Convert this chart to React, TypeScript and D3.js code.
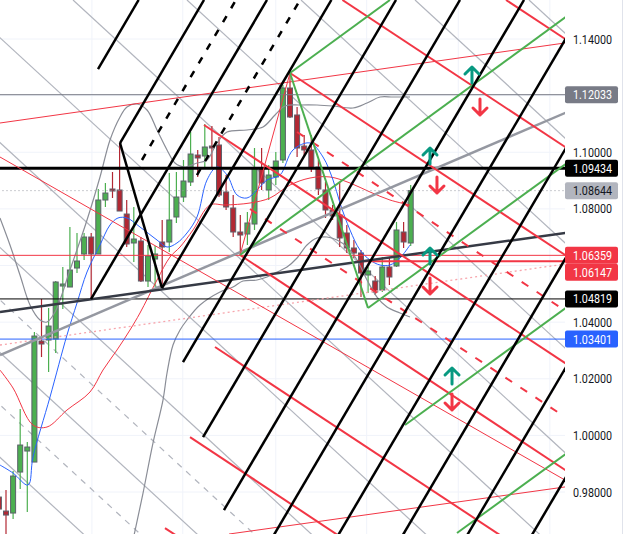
import React from "react";
import * as d3 from "d3";

const W = 628;
const H = 534;
const PLOT_W = 565;

// ---- candles (bar index starts at -1) ----
const firstIndex = -1;
const opens = [0.97822,0.97327,0.97257,0.98705,0.99447,0.99058,1.03333,1.03368,1.03403,1.05275,1.0524,1.05911,1.06406,1.07006,1.06406,1.08313,1.08702,1.08667,1.07818,1.06795,1.06865,1.05452,1.06229,1.0683,1.0683,1.07713,1.08419,1.08949,1.09902,1.09867,1.1022,1.10256,1.08596,1.08031,1.07183,1.07112,1.07465,1.09443,1.08667,1.09126,1.09726,1.12269,1.11316,1.1022,1.1008,1.09479,1.08667,1.0796,1.07784,1.07148,1.06618,1.06441,1.05664,1.05452,1.05134,1.05947,1.05982,1.07183,1.06795];
const highs = [0.97999,0.98069,0.9874,1.00931,0.99765,1.0365,1.04816,1.04498,1.05452,1.05947,1.0736,1.07148,1.07148,1.07148,1.08702,1.08914,1.09302,1.10327,1.08313,1.08066,1.07006,1.06724,1.06688,1.07607,1.09267,1.09302,1.09726,1.10715,1.1008,1.10997,1.10927,1.10538,1.09196,1.0849,1.07784,1.07889,1.1015,1.1015,1.09549,1.10008,1.12375,1.12799,1.11598,1.10609,1.10609,1.09726,1.08949,1.08137,1.08949,1.0743,1.069,1.06547,1.05947,1.05629,1.063,1.063,1.07536,1.07536,1.08843];
const lows = [0.97009,0.96304,0.97045,0.98105,0.97292,0.99058,1.02767,1.02237,1.02909,1.04463,1.0524,1.05735,1.06194,1.04816,1.06406,1.08066,1.08384,1.07924,1.06653,1.06123,1.05417,1.0524,1.0524,1.05205,1.06477,1.07501,1.08242,1.08808,1.09126,1.09479,1.09443,1.08419,1.0796,1.07006,1.0637,1.06724,1.07254,1.08667,1.08313,1.08843,1.0962,1.11209,1.09832,1.09832,1.09302,1.0849,1.07678,1.07607,1.06653,1.06441,1.06265,1.04887,1.05029,1.04958,1.05064,1.05311,1.05947,1.06618,1.06688];
const closes = [0.97398,0.97186,0.98564,0.99659,0.99588,1.03509,1.03227,1.03862,1.05417,1.05346,1.05841,1.06159,1.07006,1.06406,1.08313,1.0856,1.08631,1.07924,1.06759,1.06935,1.05452,1.06335,1.06406,1.06653,1.07607,1.08419,1.08984,1.09938,1.09797,1.10185,1.1015,1.0849,1.08066,1.07183,1.07077,1.07501,1.09443,1.08914,1.09196,1.0969,1.12269,1.11245,1.1015,1.1008,1.09443,1.08702,1.0796,1.07748,1.06971,1.06618,1.06441,1.05735,1.05806,1.05064,1.05947,1.05594,1.07254,1.0683,1.08644];

// ---- indicators: [bar index, price] ----
const blueMA: [number, number][] = [[-0.85,0.98953],[0.99,0.9867],[3.1,0.98246],[3.8,0.99235],[6.2,1.01355],[8.59,1.03545],[10,1.04675],[11.41,1.0577],[13.24,1.06724],[14.65,1.0743],[15.77,1.07678],[17.04,1.07678],[18.87,1.0736],[21.27,1.069],[22.68,1.06653],[24.08,1.06795],[25.49,1.07148],[26.9,1.07713],[28.31,1.0902],[29.72,1.09479],[31.13,1.09196],[32.54,1.0849],[33.94,1.08384],[35.35,1.08667],[36.76,1.0902],[38.59,1.09196],[40.42,1.1008],[42.82,1.10327],[44.65,1.09832],[46.06,1.0902],[47.04,1.08207],[48.45,1.07254],[49.86,1.06547],[51.27,1.06194],[52.68,1.06017],[54.08,1.06017],[55.49,1.06265],[56.9,1.06724]];
const redMA: [number, number][] = [[-0.85,1.02308],[0.99,1.01673],[3.8,1.00366],[5.77,1.00295],[8.59,1.00896],[11.83,1.01531],[13.66,1.02308],[15.63,1.03015],[17.46,1.03721],[18.87,1.04322],[21.27,1.05488],[23.1,1.063],[24.51,1.06653],[26.34,1.07254],[28.73,1.08137],[30.85,1.08137],[34.37,1.08207],[37.18,1.08384],[40,1.08843],[42.82,1.0909],[45.63,1.09126],[48.45,1.08914],[51.27,1.08596],[54.08,1.08313],[56.9,1.08137]];
const upperBand: [number, number][] = [[-0.85,1.07678],[0.56,1.06724],[1.97,1.05664],[3.38,1.04604],[4.79,1.04075],[5.77,1.04004],[6.9,1.04357],[9.01,1.05841],[11.41,1.07607],[13.24,1.09126],[14.65,1.10433],[16.06,1.11245],[17.04,1.11598],[18.45,1.11704],[19.86,1.11492],[21.27,1.10786],[22.68,1.1008],[23.8,1.0962],[25.21,1.09479],[26.9,1.0962],[28.31,1.09726],[29.72,1.10327],[31.13,1.10715],[33.94,1.10786],[36.2,1.10892],[37.89,1.11316],[39.3,1.11633],[41.41,1.11669],[43.8,1.11669],[46.06,1.11633],[48.87,1.11563],[50.85,1.1174],[52.68,1.11951],[54.51,1.11951],[56.9,1.11951]];
const lowerBand: [number, number][] = [[17.89,0.96304],[19.3,0.97964],[20.7,0.9973],[22.11,1.01249],[22.68,1.02203],[23.52,1.03192],[24.51,1.03721],[25.49,1.04075],[27.32,1.04604],[30.14,1.05064],[31.97,1.0524],[33.38,1.05452],[35.35,1.05488],[36.76,1.05594],[38.17,1.0577],[39.58,1.05947],[40.99,1.06265],[42.39,1.06724],[43.8,1.06971],[45.21,1.07006],[46.62,1.069],[48.03,1.06653],[49.44,1.06194],[50.85,1.05488],[52.25,1.04887],[53.66,1.04534],[55.49,1.04322],[56.9,1.04181]];

// ---- drawing tools: [i1, p1, i2, p2] ----
const blackSolid = [[12.96,1.1294,18.68,1.15378],[16.06,1.10326,27.89,1.15378],[11.97,1.04816,36.76,1.15378],[21.97,1.05205,45.83,1.15378],[24.93,1.02591,54.93,1.15378],[27.75,0.99941,63.94,1.15378],[30.7,0.97363,72.96,1.15378],[32.34,0.94184,82.04,1.15378],[41.41,0.94184,91.13,1.15378],[50.51,0.94184,100.2,1.15378],[59.58,0.94184,109.3,1.15378],[68.68,0.94184,118.4,1.15378],[16.06,1.10326,21.97,1.05205]];
const blackDashed = [[19.15,1.09726,32.39,1.15378],[26.9,1.09196,41.41,1.15378]];
const redThick = [[70.42,1.15378,83.66,1.13188],[47.38,1.15378,83.66,1.09373],[40,1.12799,83.66,1.05558],[27.89,1.10962,83.66,1.01743],[32.96,1.0637,83.66,0.97963],[29.44,1.03121,83.66,0.94148],[25.92,0.99941,83.66,0.90333],[22.39,0.96727,83.66,0.86589]];
const redDashed = [[40.99,1.10715,83.66,1.0358],[34.37,1.07995,83.66,0.99835]];
const redThin = [[-0.85,1.09832,83.66,0.97716],[-0.85,1.11033,83.66,1.14035],[31.41,0.96515,83.66,0.98352],[40,1.12799,32.96,1.0637]];
const pinkDotted = [[-0.85,1.03191,83.66,1.06229]];
const greenLines = [[40,1.12799,54.08,1.15378],[32.96,1.0637,82.11,1.15378],[50.99,1.04498,83.66,1.10468],[56.2,1.00365,83.66,1.05381],[63.52,0.9655,83.66,1.00224],[40,1.12799,50.99,1.04498]];
const greyThin = [[73.66,1.15378,165.5,0.94184],[57.61,1.15378,149.4,0.94184],[41.55,1.15378,133.4,0.94184],[25.49,1.15378,117.3,0.94184],[9.44,1.15378,101.3,0.94184],[-6.62,1.15378,85.2,0.94184],[-22.68,1.15378,69.2,0.94184],[-38.73,1.15378,53.1,0.94184],[-54.79,1.15378,37,0.94184],[-70.85,1.15378,21,0.94184],[-86.9,1.15378,4.9,0.94184]];
const greyDashed = [[-46.76,1.15378,45.07,0.94184],[-62.82,1.15378,29.01,0.94184]];
const greyThick = [[-0.85,1.02838,83.66,1.11916]];
const darkThick = [[-0.85,1.04357,83.66,1.07324]];

// horizontal levels
const levelPrices = [1.12033, 1.09434, 1.08644, 1.06359, 1.06147, 1.04819, 1.03401];
const levelColors = ["#787b86", "#000000", "#9598a1", "#f23645", "#f23645", "#000000", "#2962ff"];
const levelWidths = [1, 3, 1, 1, 2, 1, 1];
const levelDash = ["", "", "1,3", "", "", "", ""];
const levelFrom = [-5, -5, -5, -5, 49.44, -5, -5];
const badgeBg = ["#787b86", "#000000", "#b2b5be", "#f23645", "#f23645", "#000000", "#2962ff"];
const badgeFg = ["#ffffff", "#ffffff", "#131722", "#ffffff", "#ffffff", "#ffffff", "#ffffff"];

// arrow markers
const arrowIdx = [65.63, 66.76, 59.72, 60.7, 59.72, 59.72, 62.82, 62.82];
const arrowPrice = [1.12728, 1.11598, 1.09867, 1.08843, 1.06335, 1.05275, 1.02096, 1.01178];
const arrowUp = [true, false, true, false, true, false, true, false];

const timeGrid = [12.1, 24.9, 38.0, 50.8, 63.7, 76.6];

const x = d3.scaleLinear().domain([0, 10]).range([6, 77]);
const y = d3.scaleLinear().domain([0.98, 1.14]).range([492, 39]);

const GREEN = "#4caf50";
const RED = "#b22833";
const FONT = "Roboto, 'Noto Sans', sans-serif";

function Segs({ data, stroke, width, dash }: { data: number[][]; stroke: string; width: number; dash?: string }) {
  return (
    <g>
      {data.map((s, k) => (
        <line key={k} x1={x(s[0])} y1={y(s[1])} x2={x(s[2])} y2={y(s[3])} stroke={stroke} strokeWidth={width} strokeDasharray={dash} />
      ))}
    </g>
  );
}

export default function App() {
  const curve = d3.line<[number, number]>().x((d) => x(d[0])).y((d) => y(d[1])).curve(d3.curveCatmullRom);
  const ticks = y.ticks(8);
  const fmt = d3.format(".5f");

  // badge placement (stack when overlapping)
  const order = levelPrices.map((p, k) => k).sort((a, b) => y(levelPrices[a]) - y(levelPrices[b]));
  const badgeY: number[] = [];
  let prev = -100;
  order.forEach((k) => {
    let yy = y(levelPrices[k]);
    if (yy - prev < 17) yy = prev + 17;
    badgeY[k] = yy;
    prev = yy;
  });
  const visibleTicks = ticks.filter((t) => badgeY.every((b) => Math.abs(b - y(t)) > 14));

  const bw = 5;
  return (
    <div style={{ position: "absolute", left: 0, top: 0, width: W, height: H, background: "#fff" }}>
      <svg width={W} height={H} style={{ display: "block" }}>
        <defs>
          <clipPath id="plot">
            <rect x={0} y={0} width={PLOT_W} height={H} />
          </clipPath>
        </defs>
        <rect x={0} y={0} width={W} height={H} fill="#ffffff" />
        <g clipPath="url(#plot)">
          {ticks.map((t) => (
            <line key={t} x1={0} x2={PLOT_W} y1={y(t)} y2={y(t)} stroke="#f0f3fa" strokeWidth={1} />
          ))}
          {timeGrid.map((g) => (
            <line key={g} x1={x(g)} x2={x(g)} y1={0} y2={H} stroke="#f0f3fa" strokeWidth={1} />
          ))}
          <Segs data={greyThin} stroke="#b2b5be" width={1.2} />
          <Segs data={greyDashed} stroke="#b2b5be" width={1.2} dash="6,6" />

          {opens.map((o, k) => {
            const i = firstIndex + k;
            const c = closes[k];
            const up = c >= o;
            const col = up ? GREEN : RED;
            const top = y(Math.max(o, c));
            const bot = y(Math.min(o, c));
            return (
              <g key={k}>
                <line x1={x(i)} x2={x(i)} y1={y(highs[k])} y2={y(lows[k])} stroke={col} strokeWidth={1.2} />
                <rect x={x(i) - bw / 2} y={top} width={bw} height={Math.max(1.5, bot - top)} fill={col} stroke="#5d606b" strokeWidth={1} />
              </g>
            );
          })}

          <path d={curve(upperBand) || ""} fill="none" stroke="#8a8d96" strokeWidth={1.2} />
          <path d={curve(lowerBand) || ""} fill="none" stroke="#8a8d96" strokeWidth={1.2} />
          <path d={curve(redMA) || ""} fill="none" stroke="#f23645" strokeWidth={1} />
          <path d={curve(blueMA) || ""} fill="none" stroke="#2962ff" strokeWidth={1} />

          {levelPrices.map((p, k) => (
            <line key={k} x1={x(levelFrom[k])} x2={PLOT_W} y1={y(p)} y2={y(p)} stroke={levelColors[k]} strokeWidth={levelWidths[k]} strokeDasharray={levelDash[k] || undefined} />
          ))}

          <Segs data={pinkDotted} stroke="#f7a5ac" width={1.3} dash="2,3" />
          <Segs data={greyThick} stroke="#9598a1" width={2.5} />
          <Segs data={darkThick} stroke="#363a45" width={2.5} />
          <Segs data={redThin} stroke="#f23645" width={1} />
          <Segs data={redThick} stroke="#f23645" width={2} />
          <Segs data={redDashed} stroke="#f23645" width={2} dash="8,10" />
          <Segs data={greenLines} stroke="#4caf50" width={2} />
          <Segs data={blackSolid} stroke="#000000" width={2.5} />
          <Segs data={blackDashed} stroke="#000000" width={2.5} dash="7,9" />

          {arrowIdx.map((ai, k) => {
            const cx = x(ai);
            const cy = y(arrowPrice[k]);
            const col = arrowUp[k] ? "#089981" : "#f23645";
            const d = arrowUp[k]
              ? `M${cx - 7},${cy - 1} L${cx},${cy - 8} L${cx + 7},${cy - 1} M${cx},${cy - 8} L${cx},${cy + 8}`
              : `M${cx - 7},${cy + 1} L${cx},${cy + 8} L${cx + 7},${cy + 1} M${cx},${cy + 8} L${cx},${cy - 8}`;
            return <path key={k} d={d} fill="none" stroke={col} strokeWidth={3} strokeLinecap="round" strokeLinejoin="round" />;
          })}
        </g>

        {/* price axis */}
        <rect x={PLOT_W} y={0} width={W - PLOT_W} height={H} fill="#ffffff" />
        <line x1={622.5} x2={622.5} y1={0} y2={H} stroke="#e0e3eb" strokeWidth={1} />
        {visibleTicks.map((t) => (
          <text key={t} x={573} y={y(t) + 4.5} fontFamily={FONT} fontSize={12} fill="#131722" textLength={39} lengthAdjust="spacingAndGlyphs">
            {fmt(t)}
          </text>
        ))}
        {levelPrices.map((p, k) => (
          <g key={k}>
            <rect x={PLOT_W} y={badgeY[k] - 8.5} width={53} height={17} fill={badgeBg[k]} rx={2} />
            <text x={573} y={badgeY[k] + 4.5} fontFamily={FONT} fontSize={12} fill={badgeFg[k]} textLength={39} lengthAdjust="spacingAndGlyphs">
              {fmt(p)}
            </text>
          </g>
        ))}
      </svg>
    </div>
  );
}
